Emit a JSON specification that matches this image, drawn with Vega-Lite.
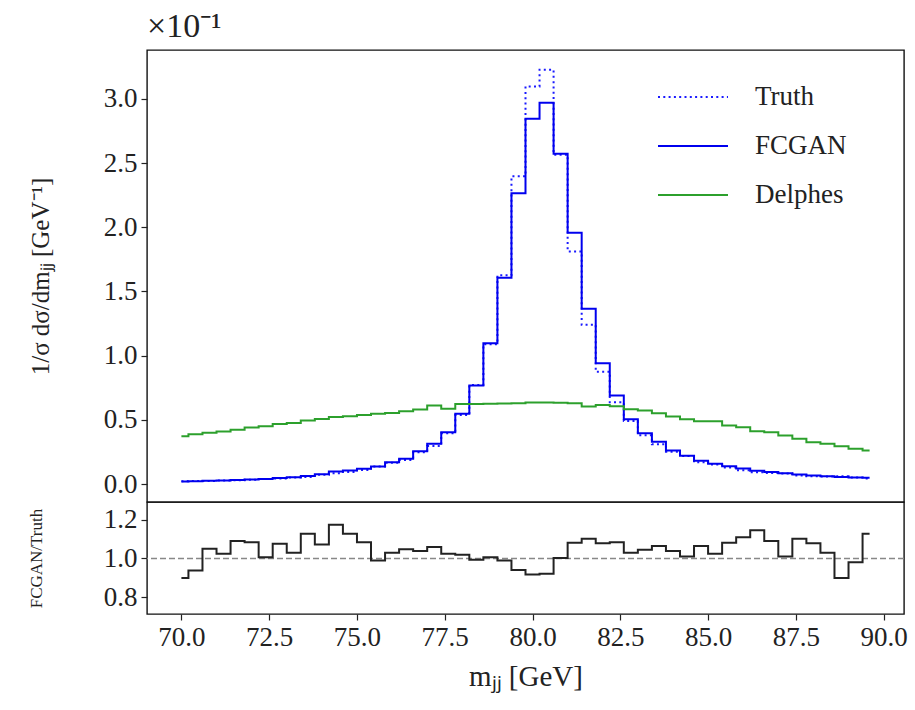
{
  "$schema": "https://vega.github.io/schema/vega-lite/v6.json",
  "background": "white",
  "padding": {"left": 26, "top": 9, "right": 5, "bottom": 5},
  "spacing": 0,
  "bounds": "flush",
  "config": {
    "font": "Liberation Serif",
    "view": {"stroke": "#111", "strokeWidth": 1.4},
    "axis": {
      "labelFont": "Liberation Serif",
      "titleFont": "Liberation Serif",
      "labelFontSize": 27,
      "labelColor": "#222",
      "titleColor": "#222",
      "titleFontWeight": "normal",
      "tickColor": "#222",
      "tickSize": 6,
      "tickWidth": 1.2,
      "domain": false,
      "grid": false,
      "labelPadding": 4
    },
    "legend": {"labelFont": "Liberation Serif"}
  },
  "datasets": {
    "h": [
      {"m": 70.0, "Truth": 0.022, "FCGAN": 0.020, "Delphes": 0.372, "ratio": 0.900},
      {"m": 70.4, "Truth": 0.0235, "FCGAN": 0.022, "Delphes": 0.388, "ratio": 0.938},
      {"m": 70.8, "Truth": 0.024, "FCGAN": 0.025, "Delphes": 0.400, "ratio": 1.050},
      {"m": 71.2, "Truth": 0.027, "FCGAN": 0.028, "Delphes": 0.410, "ratio": 1.024},
      {"m": 71.6, "Truth": 0.029, "FCGAN": 0.032, "Delphes": 0.422, "ratio": 1.090},
      {"m": 72.0, "Truth": 0.033, "FCGAN": 0.036, "Delphes": 0.440, "ratio": 1.084},
      {"m": 72.4, "Truth": 0.040, "FCGAN": 0.040, "Delphes": 0.450, "ratio": 1.007},
      {"m": 72.8, "Truth": 0.043, "FCGAN": 0.046, "Delphes": 0.467, "ratio": 1.076},
      {"m": 73.2, "Truth": 0.0515, "FCGAN": 0.053, "Delphes": 0.476, "ratio": 1.029},
      {"m": 73.6, "Truth": 0.055, "FCGAN": 0.062, "Delphes": 0.494, "ratio": 1.128},
      {"m": 74.0, "Truth": 0.072, "FCGAN": 0.077, "Delphes": 0.507, "ratio": 1.072},
      {"m": 74.4, "Truth": 0.083, "FCGAN": 0.097, "Delphes": 0.522, "ratio": 1.174},
      {"m": 74.8, "Truth": 0.093, "FCGAN": 0.105, "Delphes": 0.527, "ratio": 1.128},
      {"m": 75.2, "Truth": 0.109, "FCGAN": 0.118, "Delphes": 0.537, "ratio": 1.084},
      {"m": 75.6, "Truth": 0.137, "FCGAN": 0.136, "Delphes": 0.547, "ratio": 0.990},
      {"m": 76.0, "Truth": 0.165, "FCGAN": 0.170, "Delphes": 0.554, "ratio": 1.029},
      {"m": 76.4, "Truth": 0.187, "FCGAN": 0.196, "Delphes": 0.567, "ratio": 1.047},
      {"m": 76.8, "Truth": 0.247, "FCGAN": 0.256, "Delphes": 0.580, "ratio": 1.038},
      {"m": 77.2, "Truth": 0.296, "FCGAN": 0.313, "Delphes": 0.611, "ratio": 1.059},
      {"m": 77.6, "Truth": 0.395, "FCGAN": 0.404, "Delphes": 0.586, "ratio": 1.024},
      {"m": 78.0, "Truth": 0.537, "FCGAN": 0.547, "Delphes": 0.624, "ratio": 1.019},
      {"m": 78.4, "Truth": 0.772, "FCGAN": 0.767, "Delphes": 0.624, "ratio": 0.993},
      {"m": 78.8, "Truth": 1.089, "FCGAN": 1.097, "Delphes": 0.626, "ratio": 1.007},
      {"m": 79.2, "Truth": 1.625, "FCGAN": 1.606, "Delphes": 0.627, "ratio": 0.990},
      {"m": 79.6, "Truth": 2.397, "FCGAN": 2.265, "Delphes": 0.630, "ratio": 0.941},
      {"m": 80.0, "Truth": 3.096, "FCGAN": 2.844, "Delphes": 0.634, "ratio": 0.917},
      {"m": 80.4, "Truth": 3.226, "FCGAN": 2.969, "Delphes": 0.634, "ratio": 0.921},
      {"m": 80.8, "Truth": 2.565, "FCGAN": 2.572, "Delphes": 0.632, "ratio": 1.002},
      {"m": 81.2, "Truth": 1.811, "FCGAN": 1.956, "Delphes": 0.629, "ratio": 1.081},
      {"m": 81.6, "Truth": 1.240, "FCGAN": 1.364, "Delphes": 0.604, "ratio": 1.102},
      {"m": 82.0, "Truth": 0.874, "FCGAN": 0.941, "Delphes": 0.615, "ratio": 1.079},
      {"m": 82.4, "Truth": 0.636, "FCGAN": 0.689, "Delphes": 0.606, "ratio": 1.083},
      {"m": 82.8, "Truth": 0.491, "FCGAN": 0.505, "Delphes": 0.583, "ratio": 1.029},
      {"m": 83.2, "Truth": 0.379, "FCGAN": 0.396, "Delphes": 0.572, "ratio": 1.045},
      {"m": 83.6, "Truth": 0.310, "FCGAN": 0.330, "Delphes": 0.551, "ratio": 1.064},
      {"m": 84.0, "Truth": 0.251, "FCGAN": 0.261, "Delphes": 0.526, "ratio": 1.038},
      {"m": 84.4, "Truth": 0.218, "FCGAN": 0.220, "Delphes": 0.505, "ratio": 1.010},
      {"m": 84.8, "Truth": 0.170, "FCGAN": 0.181, "Delphes": 0.489, "ratio": 1.064},
      {"m": 85.2, "Truth": 0.153, "FCGAN": 0.157, "Delphes": 0.489, "ratio": 1.024},
      {"m": 85.6, "Truth": 0.129, "FCGAN": 0.139, "Delphes": 0.456, "ratio": 1.081},
      {"m": 86.0, "Truth": 0.108, "FCGAN": 0.120, "Delphes": 0.443, "ratio": 1.110},
      {"m": 86.4, "Truth": 0.091, "FCGAN": 0.104, "Delphes": 0.411, "ratio": 1.145},
      {"m": 86.8, "Truth": 0.085, "FCGAN": 0.093, "Delphes": 0.403, "ratio": 1.090},
      {"m": 87.2, "Truth": 0.082, "FCGAN": 0.083, "Delphes": 0.378, "ratio": 1.010},
      {"m": 87.6, "Truth": 0.067, "FCGAN": 0.074, "Delphes": 0.352, "ratio": 1.102},
      {"m": 88.0, "Truth": 0.061, "FCGAN": 0.066, "Delphes": 0.326, "ratio": 1.079},
      {"m": 88.4, "Truth": 0.058, "FCGAN": 0.060, "Delphes": 0.313, "ratio": 1.029},
      {"m": 88.8, "Truth": 0.061, "FCGAN": 0.055, "Delphes": 0.295, "ratio": 0.900},
      {"m": 89.2, "Truth": 0.051, "FCGAN": 0.050, "Delphes": 0.274, "ratio": 0.981},
      {"m": 89.6, "Truth": 0.043, "FCGAN": 0.048, "Delphes": 0.261, "ratio": 1.128}
    ]
  },
  "vconcat": [
    {
      "width": 757,
      "height": 452,
      "title": {"text": "×10⁻¹", "anchor": "start", "frame": "group", "fontSize": 34, "fontWeight": "normal", "font": "Liberation Serif", "color": "#222", "offset": 6},
      "data": {"name": "h"},
      "transform": [{"fold": ["Truth", "FCGAN", "Delphes"], "as": ["series", "v"]}],
      "mark": {"type": "line", "interpolate": "step", "strokeWidth": 2},
      "encoding": {
        "x": {"field": "m", "type": "quantitative", "scale": {"domain": [69.02, 90.58], "nice": false, "zero": false}, "axis": null},
        "y": {"field": "v", "type": "quantitative", "scale": {"domain": [-0.14, 3.38], "nice": false, "zero": false},
          "axis": {"values": [0, 0.5, 1, 1.5, 2, 2.5, 3], "format": ".1f", "title": "1/σ dσ/dmⱼⱼ [GeV⁻¹]", "titleFontSize": 25, "titlePadding": 50}},
        "color": {"field": "series", "type": "nominal",
          "scale": {"domain": ["Truth", "FCGAN", "Delphes"], "range": ["#1a1aff", "#0000ee", "#2ca02c"]},
          "legend": {"title": null, "orient": "none", "legendX": 510, "legendY": 11, "symbolType": "stroke", "symbolSize": 4900, "symbolStrokeWidth": 2, "labelFontSize": 27, "labelColor": "#222", "labelOffset": 26, "rowPadding": 0}},
        "strokeDash": {"field": "series", "type": "nominal",
          "scale": {"domain": ["Truth", "FCGAN", "Delphes"], "range": [[2, 3.3], [1, 0], [1, 0]]},
          "legend": {"title": null, "orient": "none", "legendX": 510, "legendY": 11, "symbolType": "stroke", "symbolSize": 4900, "symbolStrokeWidth": 2, "labelFontSize": 27, "labelColor": "#222", "labelOffset": 26, "rowPadding": 0}}
      }
    },
    {
      "width": 757,
      "height": 112,
      "layer": [
        {
          "data": {"values": [{}]},
          "mark": {"type": "rule", "color": "#888", "strokeDash": [6, 3], "strokeWidth": 1.5},
          "encoding": {"y": {"datum": 1, "type": "quantitative", "scale": {"domain": [0.714, 1.291], "nice": false, "zero": false}}}
        },
        {
          "data": {"name": "h"},
          "mark": {"type": "line", "interpolate": "step", "color": "#222", "strokeWidth": 2},
          "encoding": {
            "x": {"field": "m", "type": "quantitative", "scale": {"domain": [69.02, 90.58], "nice": false, "zero": false},
              "axis": {"values": [70, 72.5, 75, 77.5, 80, 82.5, 85, 87.5, 90], "format": ".1f", "title": "mⱼⱼ [GeV]", "titleFontSize": 29, "titlePadding": 12}},
            "y": {"field": "ratio", "type": "quantitative", "scale": {"domain": [0.714, 1.291], "nice": false, "zero": false},
              "axis": {"values": [0.8, 1.0, 1.2], "format": ".1f", "title": "FCGAN/Truth", "titleFontSize": 17, "titlePadding": 58}}
          }
        }
      ]
    }
  ]
}
